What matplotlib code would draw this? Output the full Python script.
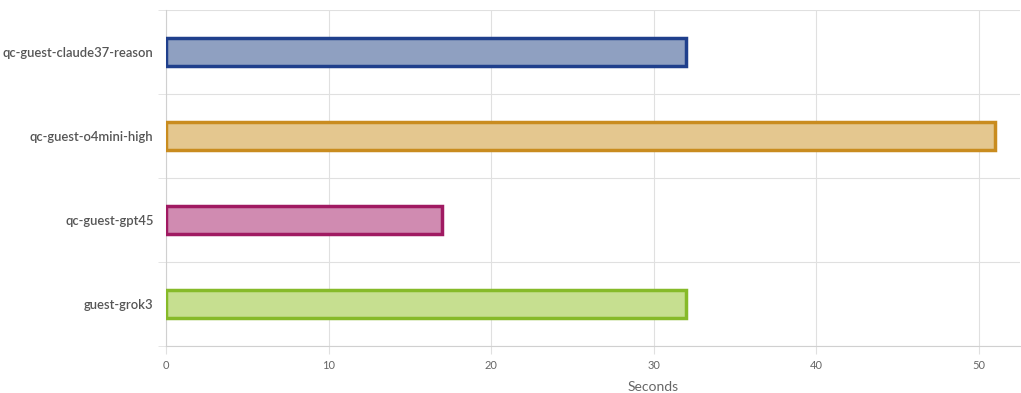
import matplotlib.pyplot as plt
import numpy as np

# donnees
modelos = ['qc-guest-claude37-reason', 'qc-guest-o4mini-high', 'qc-guest-gpt45', 'guest-grok3']
segundos = [32, 51, 17, 32]
cores_borda = ['#1f3f8c', '#c98c1f', '#a01a62', '#86ba29']
cores_fundo = ['#8fa0c1', '#e4c78f', '#d08bb1', '#c6df90']

plt.rcParams['font.family'] = ['Lato', 'DejaVu Sans']

fig = plt.figure(figsize=(10.21, 3.93), dpi=100)
ax = fig.add_axes([166 / 1021, 47 / 393, 854 / 1021, 336 / 393])

y = np.arange(len(modelos))
ax.barh(y, segundos, height=0.33, color=cores_fundo, edgecolor=cores_borda,
        linewidth=2.5, zorder=3)

ax.set_xlim(0, 52.55)
ax.set_ylim(len(modelos) - 0.5, -0.5)
ax.set_xticks([0, 10, 20, 30, 40, 50])
ax.set_yticks(y)
ax.set_yticklabels(modelos, fontsize=9.4, color='#555555', fontweight='semibold')

# linhas de grade nas fronteiras das categorias
ax.set_yticks(np.arange(-0.5, len(modelos), 1), minor=True)
ax.grid(True, which='minor', axis='y', color='#e0e0e0', linewidth=0.8, zorder=0)
ax.grid(True, which='major', axis='x', color='#e0e0e0', linewidth=0.8, zorder=0)
ax.tick_params(axis='y', which='major', length=0, pad=9)
ax.tick_params(axis='y', which='minor', length=6, color='#e0e0e0')
ax.tick_params(axis='x', length=6, color='#e0e0e0', labelsize=8, labelcolor='#666666', pad=4)

for lado in ['top', 'right']:
    ax.spines[lado].set_visible(False)
for lado in ['left', 'bottom']:
    ax.spines[lado].set_color('#d0d0d0')
    ax.spines[lado].set_linewidth(0.8)

ax.set_xlabel('Seconds', fontsize=10, color='#666666')
ax.xaxis.set_label_coords(0.57, -0.105)

fig.savefig('out.png', dpi=100)
